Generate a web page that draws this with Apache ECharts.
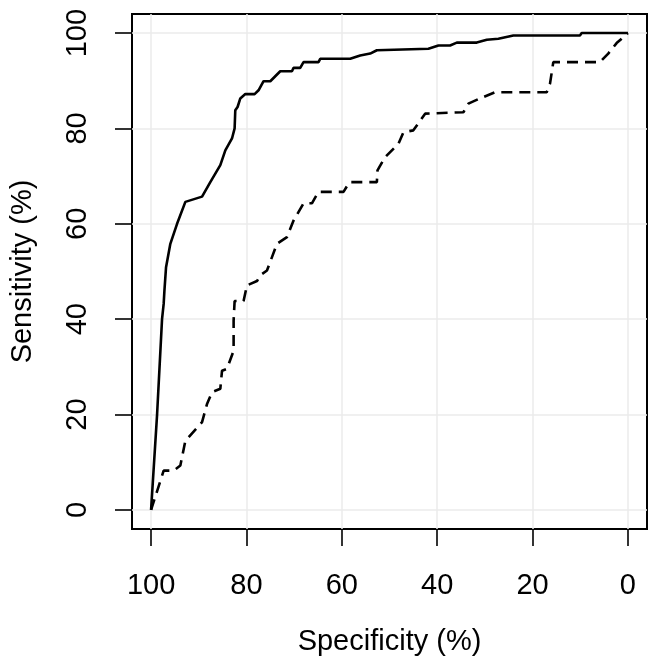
<!DOCTYPE html>
<html>
<head>
<meta charset="utf-8">
<script src="https://cdn.jsdelivr.net/npm/echarts@6/dist/echarts.min.js"></script>
<style>html,body{margin:0;padding:0;background:#fff}#c{width:656px;height:667px}</style>
</head>
<body>
<div id="c"></div>
<script>
// Tick labels
var xTicks = [100, 80, 60, 40, 20, 0];
var yTicks = [0, 20, 40, 60, 80, 100];

// Solid ROC curve: specificity (%)
var solidSpec = [100, 98.74, 97.70, 97.36, 97.2, 96.86, 95.96, 94.55, 92.81, 89.31, 87.58, 85.48, 84.43, 83.03, 82.48, 82.34, 81.86, 81.29, 80.24, 78.29, 77.46, 76.41, 75.00, 72.91, 70.46, 70.12, 68.72, 68.03, 64.89, 64.53, 58.24, 56.15, 54.05, 52.65, 52.32, 41.84, 39.74, 37.29, 35.89, 31.70, 29.60, 27.17, 24.03, 10.06, 9.70, 0];
// Solid ROC curve: sensitivity (%)
var solidSens = [0, 20, 40, 43.2, 46, 50.9, 55.8, 60.0, 64.6, 65.7, 68.75, 72.3, 75.4, 77.9, 80.0, 83.8, 84.5, 86.3, 87.2, 87.2, 88.0, 89.9, 89.9, 92.0, 92.0, 92.7, 92.7, 93.9, 93.9, 94.6, 94.6, 95.3, 95.7, 96.4, 96.7, 96.7, 97.4, 97.4, 98.0, 98.0, 98.6, 98.8, 99.5, 99.5, 100, 100];

// Dashed ROC curve: specificity (%)
var dashSpec = [100, 97.36, 95.26, 93.86, 92.81, 89.31, 88.27, 87.22, 85.48, 85.12, 84.08, 82.69, 82.69, 82.48, 80.60, 79.89, 77.79, 77.10, 75.70, 73.60, 71.51, 70.12, 68.03, 66.27, 64.89, 59.65, 58.39, 52.65, 52.52, 50.91, 48.12, 47.08, 45.00, 42.53, 34.51, 33.46, 31.01, 27.86, 17.03, 16.34, 15.65, 5.87, 4.13, 2.37, 0];
// Dashed ROC curve: sensitivity (%)
var dashSens = [0, 8.25, 8.25, 9.3, 14.5, 18.4, 22.2, 24.7, 25.4, 29.2, 29.6, 33.4, 39.7, 43.8, 43.8, 47.1, 48.0, 49.2, 50.2, 55.8, 57.2, 60.7, 64.3, 64.3, 66.7, 66.7, 68.75, 68.75, 71.2, 74.0, 76.8, 79.2, 79.6, 83.1, 83.4, 85.2, 86.3, 87.6, 87.6, 89.4, 93.9, 93.9, 95.7, 97.9, 100];

function zip(a, b) { return a.map(function (v, i) { return [v, b[i]]; }); }

var font = '"Liberation Sans", Arial, sans-serif';
var chart = echarts.init(document.getElementById('c'), null, {renderer: 'canvas'});
chart.setOption({
  animation: false,
  backgroundColor: '#fff',
  grid: {left: 130, top: 14, width: 517, height: 515, show: true, borderColor: '#000', borderWidth: 2, backgroundColor: 'transparent'},
  xAxis: {
    type: 'value', inverse: true, min: -4, max: 104, position: 'bottom',
    name: 'Specificity (%)', nameLocation: 'middle', nameGap: 98,
    nameTextStyle: {fontFamily: font, fontSize: 29, color: '#000'},
    axisLine: {show: false, onZero: false},
    axisTick: {show: true, inside: false, length: 17, customValues: xTicks, lineStyle: {color: '#000', width: 1.6}},
    axisLabel: {customValues: xTicks, margin: 42, fontFamily: font, fontSize: 29, color: '#000'},
    splitLine: {show: true, lineStyle: {color: '#ebebeb', width: 1.5}}
  },
  yAxis: {
    type: 'value', min: -4, max: 104, position: 'left',
    name: 'Sensitivity (%)', nameLocation: 'middle', nameGap: 95,
    nameTextStyle: {fontFamily: font, fontSize: 29, color: '#000'},
    axisLine: {show: false, onZero: false},
    axisTick: {show: true, inside: false, length: 17, customValues: yTicks, lineStyle: {color: '#000', width: 1.6}},
    axisLabel: {customValues: yTicks, rotate: 90, margin: 40, fontFamily: font, fontSize: 29, color: '#000'},
    splitLine: {show: true, lineStyle: {color: '#ebebeb', width: 1.5}}
  },
  series: [
    {type: 'line', data: zip(solidSpec, solidSens), showSymbol: false, symbol: 'none',
     lineStyle: {color: '#000', width: 2.6}, z: 3},
    {type: 'line', data: zip(dashSpec, dashSens), showSymbol: false, symbol: 'none',
     lineStyle: {color: '#000', width: 2.6, type: [11, 7]}, z: 3}
  ]
});
</script>
</body>
</html>
